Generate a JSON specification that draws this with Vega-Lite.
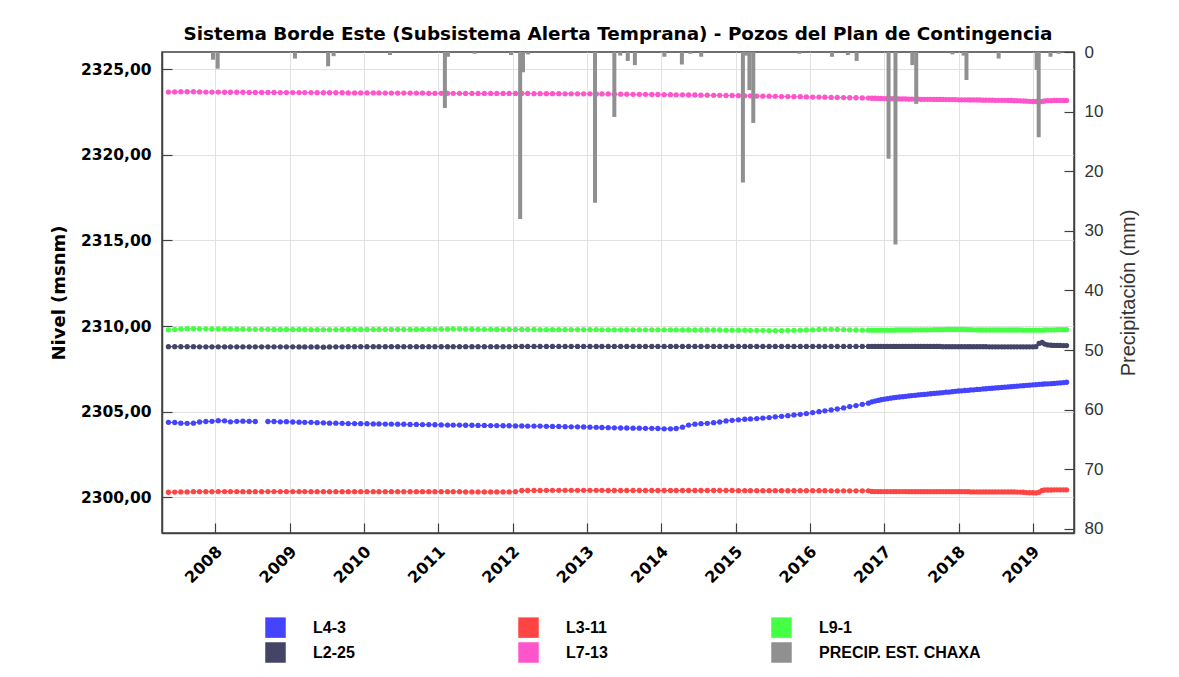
{
  "$schema": "https://vega.github.io/schema/vega-lite/v6.json",
  "width": 912,
  "height": 481,
  "autosize": {"type": "none"},
  "padding": {"left": 162, "top": 52, "right": 105, "bottom": 144},
  "background": "white",
  "title": {"text": "Sistema Borde Este (Subsistema Alerta Temprana) - Pozos del Plan de Contingencia", "font": "DejaVu Sans", "fontSize": 18.4, "fontWeight": "bold", "color": "#000000", "anchor": "middle", "offset": 0},
  "datasets": {
    "niv": [
      {"d":"2007-05-15","L4-3":2304.38,"L3-11":2300.30,"L9-1":2309.78,"L2-25":2308.80,"L7-13":2323.66},
      {"d":"2007-06-15","L4-3":2304.37,"L3-11":2300.31,"L9-1":2309.80,"L2-25":2308.80,"L7-13":2323.67},
      {"d":"2007-07-15","L4-3":2304.33,"L3-11":2300.32,"L9-1":2309.83,"L2-25":2308.80,"L7-13":2323.68},
      {"d":"2007-08-15","L4-3":2304.32,"L3-11":2300.32,"L9-1":2309.85,"L2-25":2308.80,"L7-13":2323.68},
      {"d":"2007-09-15","L4-3":2304.33,"L3-11":2300.33,"L9-1":2309.85,"L2-25":2308.80,"L7-13":2323.68},
      {"d":"2007-10-15","L4-3":2304.40,"L3-11":2300.33,"L9-1":2309.84,"L2-25":2308.79,"L7-13":2323.67},
      {"d":"2007-11-15","L4-3":2304.43,"L3-11":2300.33,"L9-1":2309.84,"L2-25":2308.79,"L7-13":2323.66},
      {"d":"2007-12-15","L4-3":2304.44,"L3-11":2300.33,"L9-1":2309.83,"L2-25":2308.79,"L7-13":2323.66},
      {"d":"2008-01-15","L4-3":2304.48,"L3-11":2300.34,"L9-1":2309.83,"L2-25":2308.79,"L7-13":2323.66},
      {"d":"2008-02-15","L4-3":2304.47,"L3-11":2300.34,"L9-1":2309.83,"L2-25":2308.79,"L7-13":2323.65},
      {"d":"2008-03-15","L4-3":2304.41,"L3-11":2300.34,"L9-1":2309.82,"L2-25":2308.79,"L7-13":2323.65},
      {"d":"2008-04-15","L4-3":2304.44,"L3-11":2300.34,"L9-1":2309.82,"L2-25":2308.79,"L7-13":2323.65},
      {"d":"2008-05-15","L4-3":2304.45,"L3-11":2300.33,"L9-1":2309.82,"L2-25":2308.79,"L7-13":2323.65},
      {"d":"2008-06-15","L4-3":2304.44,"L3-11":2300.33,"L9-1":2309.81,"L2-25":2308.79,"L7-13":2323.64},
      {"d":"2008-07-15","L4-3":2304.43,"L3-11":2300.33,"L9-1":2309.81,"L2-25":2308.79,"L7-13":2323.64},
      {"d":"2008-08-15","L3-11":2300.33,"L9-1":2309.81,"L2-25":2308.79,"L7-13":2323.64},
      {"d":"2008-09-15","L4-3":2304.43,"L3-11":2300.34,"L9-1":2309.81,"L2-25":2308.79,"L7-13":2323.64},
      {"d":"2008-10-15","L4-3":2304.43,"L3-11":2300.34,"L9-1":2309.80,"L2-25":2308.79,"L7-13":2323.64},
      {"d":"2008-11-15","L4-3":2304.41,"L3-11":2300.34,"L9-1":2309.80,"L2-25":2308.79,"L7-13":2323.63},
      {"d":"2008-12-15","L4-3":2304.42,"L3-11":2300.34,"L9-1":2309.80,"L2-25":2308.79,"L7-13":2323.63},
      {"d":"2009-01-15","L4-3":2304.40,"L3-11":2300.34,"L9-1":2309.80,"L2-25":2308.79,"L7-13":2323.63},
      {"d":"2009-02-15","L4-3":2304.39,"L3-11":2300.34,"L9-1":2309.80,"L2-25":2308.78,"L7-13":2323.63},
      {"d":"2009-03-15","L4-3":2304.38,"L3-11":2300.34,"L9-1":2309.80,"L2-25":2308.78,"L7-13":2323.63},
      {"d":"2009-04-15","L4-3":2304.38,"L3-11":2300.33,"L9-1":2309.79,"L2-25":2308.78,"L7-13":2323.63},
      {"d":"2009-05-15","L4-3":2304.36,"L3-11":2300.33,"L9-1":2309.79,"L2-25":2308.78,"L7-13":2323.62},
      {"d":"2009-06-15","L4-3":2304.35,"L3-11":2300.33,"L9-1":2309.79,"L2-25":2308.77,"L7-13":2323.62},
      {"d":"2009-07-15","L4-3":2304.33,"L3-11":2300.33,"L9-1":2309.79,"L2-25":2308.78,"L7-13":2323.62},
      {"d":"2009-08-15","L4-3":2304.33,"L3-11":2300.33,"L9-1":2309.79,"L2-25":2308.79,"L7-13":2323.62},
      {"d":"2009-09-15","L4-3":2304.32,"L3-11":2300.33,"L9-1":2309.80,"L2-25":2308.79,"L7-13":2323.62},
      {"d":"2009-10-15","L4-3":2304.31,"L3-11":2300.33,"L9-1":2309.80,"L2-25":2308.80,"L7-13":2323.61},
      {"d":"2009-11-15","L4-3":2304.31,"L3-11":2300.33,"L9-1":2309.80,"L2-25":2308.80,"L7-13":2323.61},
      {"d":"2009-12-15","L4-3":2304.30,"L3-11":2300.33,"L9-1":2309.80,"L2-25":2308.80,"L7-13":2323.61},
      {"d":"2010-01-15","L4-3":2304.30,"L3-11":2300.33,"L9-1":2309.80,"L2-25":2308.80,"L7-13":2323.61},
      {"d":"2010-02-15","L4-3":2304.29,"L3-11":2300.33,"L9-1":2309.80,"L2-25":2308.80,"L7-13":2323.61},
      {"d":"2010-03-15","L4-3":2304.29,"L3-11":2300.33,"L9-1":2309.80,"L2-25":2308.80,"L7-13":2323.61},
      {"d":"2010-04-15","L4-3":2304.28,"L3-11":2300.33,"L9-1":2309.80,"L2-25":2308.80,"L7-13":2323.60},
      {"d":"2010-05-15","L4-3":2304.28,"L3-11":2300.33,"L9-1":2309.80,"L2-25":2308.80,"L7-13":2323.60},
      {"d":"2010-06-15","L4-3":2304.27,"L3-11":2300.33,"L9-1":2309.80,"L2-25":2308.80,"L7-13":2323.60},
      {"d":"2010-07-15","L4-3":2304.27,"L3-11":2300.33,"L9-1":2309.80,"L2-25":2308.80,"L7-13":2323.60},
      {"d":"2010-08-15","L4-3":2304.26,"L3-11":2300.33,"L9-1":2309.80,"L2-25":2308.80,"L7-13":2323.60},
      {"d":"2010-09-15","L4-3":2304.26,"L3-11":2300.33,"L9-1":2309.80,"L2-25":2308.80,"L7-13":2323.60},
      {"d":"2010-10-15","L4-3":2304.25,"L3-11":2300.33,"L9-1":2309.81,"L2-25":2308.80,"L7-13":2323.60},
      {"d":"2010-11-15","L4-3":2304.25,"L3-11":2300.33,"L9-1":2309.81,"L2-25":2308.80,"L7-13":2323.59},
      {"d":"2010-12-15","L4-3":2304.24,"L3-11":2300.33,"L9-1":2309.81,"L2-25":2308.80,"L7-13":2323.59},
      {"d":"2011-01-15","L4-3":2304.23,"L3-11":2300.33,"L9-1":2309.82,"L2-25":2308.80,"L7-13":2323.59},
      {"d":"2011-02-15","L4-3":2304.22,"L3-11":2300.33,"L9-1":2309.82,"L2-25":2308.80,"L7-13":2323.59},
      {"d":"2011-03-15","L4-3":2304.22,"L3-11":2300.33,"L9-1":2309.83,"L2-25":2308.80,"L7-13":2323.59},
      {"d":"2011-04-15","L4-3":2304.22,"L3-11":2300.33,"L9-1":2309.83,"L2-25":2308.80,"L7-13":2323.59},
      {"d":"2011-05-15","L4-3":2304.21,"L3-11":2300.32,"L9-1":2309.82,"L2-25":2308.80,"L7-13":2323.58},
      {"d":"2011-06-15","L4-3":2304.21,"L3-11":2300.32,"L9-1":2309.82,"L2-25":2308.80,"L7-13":2323.58},
      {"d":"2011-07-15","L4-3":2304.20,"L3-11":2300.32,"L9-1":2309.81,"L2-25":2308.80,"L7-13":2323.58},
      {"d":"2011-08-15","L4-3":2304.20,"L3-11":2300.32,"L9-1":2309.81,"L2-25":2308.80,"L7-13":2323.58},
      {"d":"2011-09-15","L4-3":2304.19,"L3-11":2300.32,"L9-1":2309.81,"L2-25":2308.80,"L7-13":2323.58},
      {"d":"2011-10-15","L4-3":2304.19,"L3-11":2300.32,"L9-1":2309.80,"L2-25":2308.80,"L7-13":2323.58},
      {"d":"2011-11-15","L4-3":2304.18,"L3-11":2300.32,"L9-1":2309.80,"L2-25":2308.80,"L7-13":2323.58},
      {"d":"2011-12-15","L4-3":2304.18,"L3-11":2300.32,"L9-1":2309.80,"L2-25":2308.80,"L7-13":2323.58},
      {"d":"2012-01-15","L4-3":2304.17,"L3-11":2300.33,"L9-1":2309.80,"L2-25":2308.81,"L7-13":2323.58},
      {"d":"2012-02-15","L4-3":2304.17,"L3-11":2300.40,"L9-1":2309.80,"L2-25":2308.81,"L7-13":2323.58},
      {"d":"2012-03-15","L4-3":2304.16,"L3-11":2300.40,"L9-1":2309.80,"L2-25":2308.81,"L7-13":2323.58},
      {"d":"2012-04-15","L4-3":2304.16,"L3-11":2300.40,"L9-1":2309.80,"L2-25":2308.81,"L7-13":2323.57},
      {"d":"2012-05-15","L4-3":2304.16,"L3-11":2300.40,"L9-1":2309.79,"L2-25":2308.81,"L7-13":2323.57},
      {"d":"2012-06-15","L4-3":2304.15,"L3-11":2300.41,"L9-1":2309.79,"L2-25":2308.81,"L7-13":2323.57},
      {"d":"2012-07-15","L4-3":2304.14,"L3-11":2300.41,"L9-1":2309.79,"L2-25":2308.81,"L7-13":2323.57},
      {"d":"2012-08-15","L4-3":2304.14,"L3-11":2300.41,"L9-1":2309.79,"L2-25":2308.81,"L7-13":2323.57},
      {"d":"2012-09-15","L4-3":2304.13,"L3-11":2300.41,"L9-1":2309.79,"L2-25":2308.81,"L7-13":2323.56},
      {"d":"2012-10-15","L4-3":2304.12,"L3-11":2300.41,"L9-1":2309.79,"L2-25":2308.81,"L7-13":2323.56},
      {"d":"2012-11-15","L4-3":2304.12,"L3-11":2300.41,"L9-1":2309.79,"L2-25":2308.81,"L7-13":2323.56},
      {"d":"2012-12-15","L4-3":2304.11,"L3-11":2300.41,"L9-1":2309.79,"L2-25":2308.81,"L7-13":2323.56},
      {"d":"2013-01-15","L4-3":2304.10,"L3-11":2300.41,"L9-1":2309.79,"L2-25":2308.81,"L7-13":2323.56},
      {"d":"2013-02-15","L4-3":2304.09,"L3-11":2300.41,"L9-1":2309.79,"L2-25":2308.81,"L7-13":2323.55},
      {"d":"2013-03-15","L4-3":2304.08,"L3-11":2300.41,"L9-1":2309.78,"L2-25":2308.81,"L7-13":2323.55},
      {"d":"2013-04-15","L4-3":2304.07,"L3-11":2300.40,"L9-1":2309.78,"L2-25":2308.81,"L7-13":2323.55},
      {"d":"2013-05-15","L4-3":2304.06,"L3-11":2300.40,"L9-1":2309.78,"L2-25":2308.81,"L7-13":2323.54},
      {"d":"2013-06-15","L4-3":2304.05,"L3-11":2300.40,"L9-1":2309.78,"L2-25":2308.81,"L7-13":2323.54},
      {"d":"2013-07-15","L4-3":2304.05,"L3-11":2300.40,"L9-1":2309.78,"L2-25":2308.81,"L7-13":2323.54},
      {"d":"2013-08-15","L4-3":2304.04,"L3-11":2300.40,"L9-1":2309.78,"L2-25":2308.81,"L7-13":2323.53},
      {"d":"2013-09-15","L4-3":2304.04,"L3-11":2300.40,"L9-1":2309.78,"L2-25":2308.81,"L7-13":2323.53},
      {"d":"2013-10-15","L4-3":2304.03,"L3-11":2300.40,"L9-1":2309.78,"L2-25":2308.81,"L7-13":2323.53},
      {"d":"2013-11-15","L4-3":2304.03,"L3-11":2300.40,"L9-1":2309.78,"L2-25":2308.81,"L7-13":2323.52},
      {"d":"2013-12-15","L4-3":2304.02,"L3-11":2300.40,"L9-1":2309.78,"L2-25":2308.81,"L7-13":2323.52},
      {"d":"2014-01-15","L4-3":2304.00,"L3-11":2300.40,"L9-1":2309.78,"L2-25":2308.81,"L7-13":2323.51},
      {"d":"2014-02-15","L4-3":2304.00,"L3-11":2300.40,"L9-1":2309.78,"L2-25":2308.81,"L7-13":2323.51},
      {"d":"2014-03-15","L4-3":2304.02,"L3-11":2300.40,"L9-1":2309.78,"L2-25":2308.81,"L7-13":2323.50},
      {"d":"2014-04-15","L4-3":2304.10,"L3-11":2300.40,"L9-1":2309.77,"L2-25":2308.81,"L7-13":2323.50},
      {"d":"2014-05-15","L4-3":2304.22,"L3-11":2300.40,"L9-1":2309.77,"L2-25":2308.81,"L7-13":2323.49},
      {"d":"2014-06-15","L4-3":2304.27,"L3-11":2300.40,"L9-1":2309.77,"L2-25":2308.81,"L7-13":2323.49},
      {"d":"2014-07-15","L4-3":2304.30,"L3-11":2300.40,"L9-1":2309.77,"L2-25":2308.81,"L7-13":2323.48},
      {"d":"2014-08-15","L4-3":2304.32,"L3-11":2300.40,"L9-1":2309.77,"L2-25":2308.81,"L7-13":2323.48},
      {"d":"2014-09-15","L4-3":2304.36,"L3-11":2300.40,"L9-1":2309.77,"L2-25":2308.81,"L7-13":2323.47},
      {"d":"2014-10-15","L4-3":2304.40,"L3-11":2300.40,"L9-1":2309.77,"L2-25":2308.81,"L7-13":2323.47},
      {"d":"2014-11-15","L4-3":2304.46,"L3-11":2300.40,"L9-1":2309.76,"L2-25":2308.81,"L7-13":2323.46},
      {"d":"2014-12-15","L4-3":2304.50,"L3-11":2300.40,"L9-1":2309.76,"L2-25":2308.81,"L7-13":2323.46},
      {"d":"2015-01-15","L4-3":2304.53,"L3-11":2300.39,"L9-1":2309.76,"L2-25":2308.81,"L7-13":2323.45},
      {"d":"2015-02-15","L4-3":2304.56,"L3-11":2300.39,"L9-1":2309.76,"L2-25":2308.81,"L7-13":2323.44},
      {"d":"2015-03-15","L4-3":2304.58,"L3-11":2300.39,"L9-1":2309.75,"L2-25":2308.81,"L7-13":2323.44},
      {"d":"2015-04-15","L4-3":2304.60,"L3-11":2300.39,"L9-1":2309.75,"L2-25":2308.81,"L7-13":2323.43},
      {"d":"2015-05-15","L4-3":2304.63,"L3-11":2300.39,"L9-1":2309.75,"L2-25":2308.81,"L7-13":2323.42},
      {"d":"2015-06-15","L4-3":2304.66,"L3-11":2300.39,"L9-1":2309.74,"L2-25":2308.81,"L7-13":2323.42},
      {"d":"2015-07-15","L4-3":2304.70,"L3-11":2300.39,"L9-1":2309.74,"L2-25":2308.81,"L7-13":2323.41},
      {"d":"2015-08-15","L4-3":2304.73,"L3-11":2300.39,"L9-1":2309.74,"L2-25":2308.81,"L7-13":2323.40},
      {"d":"2015-09-15","L4-3":2304.77,"L3-11":2300.39,"L9-1":2309.75,"L2-25":2308.81,"L7-13":2323.40},
      {"d":"2015-10-15","L4-3":2304.81,"L3-11":2300.39,"L9-1":2309.75,"L2-25":2308.81,"L7-13":2323.39},
      {"d":"2015-11-15","L4-3":2304.85,"L3-11":2300.39,"L9-1":2309.76,"L2-25":2308.81,"L7-13":2323.39},
      {"d":"2015-12-15","L4-3":2304.89,"L3-11":2300.39,"L9-1":2309.77,"L2-25":2308.81,"L7-13":2323.38},
      {"d":"2016-01-15","L4-3":2304.95,"L3-11":2300.39,"L9-1":2309.78,"L2-25":2308.81,"L7-13":2323.37},
      {"d":"2016-02-15","L4-3":2305.00,"L3-11":2300.39,"L9-1":2309.80,"L2-25":2308.81,"L7-13":2323.37},
      {"d":"2016-03-15","L4-3":2305.05,"L3-11":2300.39,"L9-1":2309.81,"L2-25":2308.81,"L7-13":2323.36},
      {"d":"2016-04-15","L4-3":2305.10,"L3-11":2300.38,"L9-1":2309.81,"L2-25":2308.81,"L7-13":2323.35},
      {"d":"2016-05-15","L4-3":2305.16,"L3-11":2300.38,"L9-1":2309.80,"L2-25":2308.81,"L7-13":2323.35},
      {"d":"2016-06-15","L4-3":2305.22,"L3-11":2300.38,"L9-1":2309.79,"L2-25":2308.81,"L7-13":2323.34},
      {"d":"2016-07-15","L4-3":2305.30,"L3-11":2300.38,"L9-1":2309.78,"L2-25":2308.81,"L7-13":2323.33},
      {"d":"2016-08-15","L4-3":2305.36,"L3-11":2300.38,"L9-1":2309.77,"L2-25":2308.81,"L7-13":2323.33},
      {"d":"2016-09-15","L4-3":2305.43,"L3-11":2300.38,"L9-1":2309.76,"L2-25":2308.81,"L7-13":2323.32},
      {"d":"2016-10-15","L4-3":2305.50,"L3-11":2300.38,"L9-1":2309.76,"L2-25":2308.81,"L7-13":2323.31},
      {"d":"2016-11-01","L4-3":2305.58,"L3-11":2300.35,"L9-1":2309.76,"L2-25":2308.81,"L7-13":2323.30},
      {"d":"2016-11-16","L4-3":2305.62,"L3-11":2300.34,"L9-1":2309.76,"L2-25":2308.81,"L7-13":2323.30},
      {"d":"2016-12-01","L4-3":2305.66,"L3-11":2300.34,"L9-1":2309.76,"L2-25":2308.81,"L7-13":2323.29},
      {"d":"2016-12-16","L4-3":2305.70,"L3-11":2300.34,"L9-1":2309.76,"L2-25":2308.81,"L7-13":2323.29},
      {"d":"2017-01-01","L4-3":2305.73,"L3-11":2300.34,"L9-1":2309.76,"L2-25":2308.81,"L7-13":2323.28},
      {"d":"2017-01-16","L4-3":2305.76,"L3-11":2300.34,"L9-1":2309.76,"L2-25":2308.81,"L7-13":2323.28},
      {"d":"2017-02-01","L4-3":2305.79,"L3-11":2300.34,"L9-1":2309.76,"L2-25":2308.81,"L7-13":2323.27},
      {"d":"2017-02-16","L4-3":2305.82,"L3-11":2300.34,"L9-1":2309.76,"L2-25":2308.81,"L7-13":2323.27},
      {"d":"2017-03-01","L4-3":2305.84,"L3-11":2300.34,"L9-1":2309.77,"L2-25":2308.81,"L7-13":2323.27},
      {"d":"2017-03-16","L4-3":2305.86,"L3-11":2300.34,"L9-1":2309.77,"L2-25":2308.81,"L7-13":2323.26},
      {"d":"2017-04-01","L4-3":2305.88,"L3-11":2300.34,"L9-1":2309.77,"L2-25":2308.81,"L7-13":2323.26},
      {"d":"2017-04-16","L4-3":2305.90,"L3-11":2300.34,"L9-1":2309.77,"L2-25":2308.81,"L7-13":2323.26},
      {"d":"2017-05-01","L4-3":2305.92,"L3-11":2300.33,"L9-1":2309.77,"L2-25":2308.81,"L7-13":2323.25},
      {"d":"2017-05-16","L4-3":2305.94,"L3-11":2300.33,"L9-1":2309.77,"L2-25":2308.81,"L7-13":2323.25},
      {"d":"2017-06-01","L4-3":2305.96,"L3-11":2300.33,"L9-1":2309.78,"L2-25":2308.81,"L7-13":2323.25},
      {"d":"2017-06-16","L4-3":2305.98,"L3-11":2300.33,"L9-1":2309.78,"L2-25":2308.81,"L7-13":2323.25},
      {"d":"2017-07-01","L4-3":2306.00,"L3-11":2300.33,"L9-1":2309.78,"L2-25":2308.81,"L7-13":2323.24},
      {"d":"2017-07-16","L4-3":2306.01,"L3-11":2300.33,"L9-1":2309.78,"L2-25":2308.81,"L7-13":2323.24},
      {"d":"2017-08-01","L4-3":2306.03,"L3-11":2300.33,"L9-1":2309.78,"L2-25":2308.81,"L7-13":2323.24},
      {"d":"2017-08-16","L4-3":2306.05,"L3-11":2300.33,"L9-1":2309.78,"L2-25":2308.81,"L7-13":2323.24},
      {"d":"2017-09-01","L4-3":2306.07,"L3-11":2300.33,"L9-1":2309.79,"L2-25":2308.81,"L7-13":2323.23},
      {"d":"2017-09-16","L4-3":2306.08,"L3-11":2300.33,"L9-1":2309.79,"L2-25":2308.81,"L7-13":2323.23},
      {"d":"2017-10-01","L4-3":2306.10,"L3-11":2300.33,"L9-1":2309.79,"L2-25":2308.81,"L7-13":2323.23},
      {"d":"2017-10-16","L4-3":2306.12,"L3-11":2300.33,"L9-1":2309.79,"L2-25":2308.80,"L7-13":2323.23},
      {"d":"2017-11-01","L4-3":2306.14,"L3-11":2300.33,"L9-1":2309.80,"L2-25":2308.80,"L7-13":2323.22},
      {"d":"2017-11-16","L4-3":2306.15,"L3-11":2300.33,"L9-1":2309.80,"L2-25":2308.80,"L7-13":2323.22},
      {"d":"2017-12-01","L4-3":2306.17,"L3-11":2300.33,"L9-1":2309.80,"L2-25":2308.80,"L7-13":2323.22},
      {"d":"2017-12-16","L4-3":2306.19,"L3-11":2300.33,"L9-1":2309.80,"L2-25":2308.80,"L7-13":2323.22},
      {"d":"2018-01-01","L4-3":2306.21,"L3-11":2300.33,"L9-1":2309.80,"L2-25":2308.80,"L7-13":2323.21},
      {"d":"2018-01-16","L4-3":2306.22,"L3-11":2300.33,"L9-1":2309.80,"L2-25":2308.80,"L7-13":2323.21},
      {"d":"2018-02-01","L4-3":2306.24,"L3-11":2300.33,"L9-1":2309.80,"L2-25":2308.80,"L7-13":2323.21},
      {"d":"2018-02-16","L4-3":2306.25,"L3-11":2300.33,"L9-1":2309.79,"L2-25":2308.80,"L7-13":2323.21},
      {"d":"2018-03-01","L4-3":2306.27,"L3-11":2300.32,"L9-1":2309.79,"L2-25":2308.80,"L7-13":2323.20},
      {"d":"2018-03-16","L4-3":2306.28,"L3-11":2300.32,"L9-1":2309.78,"L2-25":2308.80,"L7-13":2323.20},
      {"d":"2018-04-01","L4-3":2306.30,"L3-11":2300.32,"L9-1":2309.78,"L2-25":2308.80,"L7-13":2323.20},
      {"d":"2018-04-16","L4-3":2306.31,"L3-11":2300.32,"L9-1":2309.77,"L2-25":2308.80,"L7-13":2323.20},
      {"d":"2018-05-01","L4-3":2306.33,"L3-11":2300.32,"L9-1":2309.77,"L2-25":2308.80,"L7-13":2323.19},
      {"d":"2018-05-16","L4-3":2306.34,"L3-11":2300.32,"L9-1":2309.77,"L2-25":2308.80,"L7-13":2323.19},
      {"d":"2018-06-01","L4-3":2306.36,"L3-11":2300.32,"L9-1":2309.77,"L2-25":2308.79,"L7-13":2323.19},
      {"d":"2018-06-16","L4-3":2306.37,"L3-11":2300.32,"L9-1":2309.77,"L2-25":2308.79,"L7-13":2323.19},
      {"d":"2018-07-01","L4-3":2306.39,"L3-11":2300.32,"L9-1":2309.77,"L2-25":2308.79,"L7-13":2323.18},
      {"d":"2018-07-16","L4-3":2306.40,"L3-11":2300.32,"L9-1":2309.77,"L2-25":2308.79,"L7-13":2323.18},
      {"d":"2018-08-01","L4-3":2306.42,"L3-11":2300.32,"L9-1":2309.77,"L2-25":2308.79,"L7-13":2323.18},
      {"d":"2018-08-16","L4-3":2306.43,"L3-11":2300.32,"L9-1":2309.77,"L2-25":2308.79,"L7-13":2323.18},
      {"d":"2018-09-01","L4-3":2306.45,"L3-11":2300.32,"L9-1":2309.77,"L2-25":2308.79,"L7-13":2323.17},
      {"d":"2018-09-16","L4-3":2306.46,"L3-11":2300.32,"L9-1":2309.77,"L2-25":2308.79,"L7-13":2323.17},
      {"d":"2018-10-01","L4-3":2306.48,"L3-11":2300.32,"L9-1":2309.77,"L2-25":2308.79,"L7-13":2323.16},
      {"d":"2018-10-16","L4-3":2306.49,"L3-11":2300.31,"L9-1":2309.77,"L2-25":2308.79,"L7-13":2323.16},
      {"d":"2018-11-01","L4-3":2306.51,"L3-11":2300.31,"L9-1":2309.77,"L2-25":2308.79,"L7-13":2323.15},
      {"d":"2018-11-16","L4-3":2306.52,"L3-11":2300.30,"L9-1":2309.76,"L2-25":2308.79,"L7-13":2323.14},
      {"d":"2018-12-01","L4-3":2306.54,"L3-11":2300.28,"L9-1":2309.76,"L2-25":2308.79,"L7-13":2323.13},
      {"d":"2018-12-16","L4-3":2306.55,"L3-11":2300.27,"L9-1":2309.76,"L2-25":2308.79,"L7-13":2323.12},
      {"d":"2019-01-01","L4-3":2306.57,"L3-11":2300.27,"L9-1":2309.76,"L2-25":2308.79,"L7-13":2323.11},
      {"d":"2019-01-16","L4-3":2306.58,"L3-11":2300.26,"L9-1":2309.76,"L2-25":2308.80,"L7-13":2323.11},
      {"d":"2019-02-01","L4-3":2306.60,"L3-11":2300.30,"L9-1":2309.76,"L2-25":2308.99,"L7-13":2323.10},
      {"d":"2019-02-16","L4-3":2306.61,"L3-11":2300.40,"L9-1":2309.76,"L2-25":2309.04,"L7-13":2323.11},
      {"d":"2019-03-01","L4-3":2306.62,"L3-11":2300.43,"L9-1":2309.77,"L2-25":2308.95,"L7-13":2323.14},
      {"d":"2019-03-16","L4-3":2306.63,"L3-11":2300.43,"L9-1":2309.78,"L2-25":2308.90,"L7-13":2323.16},
      {"d":"2019-04-01","L4-3":2306.64,"L3-11":2300.43,"L9-1":2309.78,"L2-25":2308.88,"L7-13":2323.16},
      {"d":"2019-04-16","L4-3":2306.65,"L3-11":2300.44,"L9-1":2309.78,"L2-25":2308.87,"L7-13":2323.17},
      {"d":"2019-05-01","L4-3":2306.67,"L3-11":2300.44,"L9-1":2309.79,"L2-25":2308.87,"L7-13":2323.17},
      {"d":"2019-05-16","L4-3":2306.68,"L3-11":2300.44,"L9-1":2309.79,"L2-25":2308.87,"L7-13":2323.17},
      {"d":"2019-06-01","L4-3":2306.70,"L3-11":2300.44,"L9-1":2309.79,"L2-25":2308.86,"L7-13":2323.17},
      {"d":"2019-06-16","L4-3":2306.72,"L3-11":2300.44,"L9-1":2309.79,"L2-25":2308.86,"L7-13":2323.17}
    ],
    "pp": [
      {"d":"2007-12-20","mm":1.3,"serie":"PRECIP. EST. CHAXA"},
      {"d":"2008-01-12","mm":2.8,"serie":"PRECIP. EST. CHAXA"},
      {"d":"2009-01-26","mm":1.1,"serie":"PRECIP. EST. CHAXA"},
      {"d":"2009-07-08","mm":2.4,"serie":"PRECIP. EST. CHAXA"},
      {"d":"2009-08-04","mm":0.7,"serie":"PRECIP. EST. CHAXA"},
      {"d":"2010-05-08","mm":0.5,"serie":"PRECIP. EST. CHAXA"},
      {"d":"2011-02-02","mm":9.4,"serie":"PRECIP. EST. CHAXA"},
      {"d":"2011-02-17","mm":0.8,"serie":"PRECIP. EST. CHAXA"},
      {"d":"2011-06-28","mm":0.3,"serie":"PRECIP. EST. CHAXA"},
      {"d":"2011-12-24","mm":0.5,"serie":"PRECIP. EST. CHAXA"},
      {"d":"2012-02-07","mm":28.0,"serie":"PRECIP. EST. CHAXA"},
      {"d":"2012-02-21","mm":3.4,"serie":"PRECIP. EST. CHAXA"},
      {"d":"2012-03-17","mm":0.4,"serie":"PRECIP. EST. CHAXA"},
      {"d":"2013-02-09","mm":25.3,"serie":"PRECIP. EST. CHAXA"},
      {"d":"2013-05-15","mm":10.9,"serie":"PRECIP. EST. CHAXA"},
      {"d":"2013-06-13","mm":0.6,"serie":"PRECIP. EST. CHAXA"},
      {"d":"2013-07-20","mm":1.5,"serie":"PRECIP. EST. CHAXA"},
      {"d":"2013-08-24","mm":2.2,"serie":"PRECIP. EST. CHAXA"},
      {"d":"2014-01-16","mm":0.8,"serie":"PRECIP. EST. CHAXA"},
      {"d":"2014-04-12","mm":2.1,"serie":"PRECIP. EST. CHAXA"},
      {"d":"2014-05-23","mm":0.3,"serie":"PRECIP. EST. CHAXA"},
      {"d":"2014-07-16","mm":0.8,"serie":"PRECIP. EST. CHAXA"},
      {"d":"2015-02-06","mm":21.9,"serie":"PRECIP. EST. CHAXA"},
      {"d":"2015-02-24","mm":0.6,"serie":"PRECIP. EST. CHAXA"},
      {"d":"2015-03-10","mm":6.4,"serie":"PRECIP. EST. CHAXA"},
      {"d":"2015-03-29","mm":11.9,"serie":"PRECIP. EST. CHAXA"},
      {"d":"2015-11-10","mm":0.3,"serie":"PRECIP. EST. CHAXA"},
      {"d":"2016-04-19","mm":0.8,"serie":"PRECIP. EST. CHAXA"},
      {"d":"2016-07-06","mm":0.5,"serie":"PRECIP. EST. CHAXA"},
      {"d":"2016-08-18","mm":1.5,"serie":"PRECIP. EST. CHAXA"},
      {"d":"2017-01-22","mm":17.9,"serie":"PRECIP. EST. CHAXA"},
      {"d":"2017-02-25","mm":32.3,"serie":"PRECIP. EST. CHAXA"},
      {"d":"2017-05-19","mm":2.2,"serie":"PRECIP. EST. CHAXA"},
      {"d":"2017-06-07","mm":8.7,"serie":"PRECIP. EST. CHAXA"},
      {"d":"2017-12-02","mm":0.4,"serie":"PRECIP. EST. CHAXA"},
      {"d":"2018-01-26","mm":0.6,"serie":"PRECIP. EST. CHAXA"},
      {"d":"2018-02-09","mm":4.7,"serie":"PRECIP. EST. CHAXA"},
      {"d":"2018-07-17","mm":1.1,"serie":"PRECIP. EST. CHAXA"},
      {"d":"2019-01-20","mm":3.0,"serie":"PRECIP. EST. CHAXA"},
      {"d":"2019-01-30","mm":14.3,"serie":"PRECIP. EST. CHAXA"},
      {"d":"2019-03-29","mm":0.8,"serie":"PRECIP. EST. CHAXA"},
      {"d":"2019-05-08","mm":0.3,"serie":"PRECIP. EST. CHAXA"}
    ]
  },
  "layer": [
    {
      "data": {"name": "niv"},
      "transform": [{"fold": ["L4-3", "L3-11", "L9-1", "L2-25", "L7-13"], "as": ["serie", "nivel"]}],
      "mark": {"type": "line", "strokeWidth": 1, "clip": true, "point": {"filled": true, "size": 28, "opacity": 1}},
      "encoding": {
        "x": {"field": "d", "type": "temporal", "scale": {"domain": ["2007-05-08", "2019-06-28"]},
          "axis": {"orient": "bottom", "tickCount": {"interval": "year", "step": 1}, "format": "%Y", "labelAngle": -45, "labelFont": "DejaVu Sans", "labelFontWeight": "bold", "labelFontSize": 16, "labelColor": "#000000", "tickSize": -10, "labelPadding": 20, "labelOffset": -2, "title": null, "grid": true, "gridColor": "#e2e2e2", "domainColor": "#404040", "tickColor": "#404040", "labelOverlap": false, "labelFlush": false}},
        "y": {"field": "nivel", "type": "quantitative", "scale": {"domain": [2297.92, 2326], "zero": false, "nice": false},
          "axis": {"orient": "left", "values": [2300, 2305, 2310, 2315, 2320, 2325], "labelExpr": "replace(format(datum.value, '.2f'), '.', ',')", "labelFont": "DejaVu Sans", "labelFontWeight": "bold", "labelFontSize": 15.5, "labelColor": "#000000", "tickSize": -10, "labelPadding": 21, "title": "Nivel (msnm)", "titleFont": "DejaVu Sans", "titleFontSize": 18, "titleFontWeight": "bold", "titleColor": "#000000", "titlePadding": 12, "grid": true, "gridColor": "#e2e2e2", "domainColor": "#404040", "tickColor": "#404040"}},
        "color": {"field": "serie", "type": "nominal",
          "scale": {"domain": ["L4-3", "L3-11", "L9-1", "L2-25", "L7-13", "PRECIP. EST. CHAXA"], "range": ["#4444ff", "#ff4444", "#44ff44", "#444466", "#ff55cc", "#909090"]},
          "legend": {"orient": "none", "legendX": 103, "legendY": 565, "columns": 3, "columnPadding": 163, "rowPadding": 4, "symbolType": "square", "symbolSize": 420, "symbolStrokeWidth": 0, "symbolOpacity": 1, "labelFont": "Liberation Sans", "labelFontWeight": "bold", "labelFontSize": 16, "labelLimit": 400, "labelColor": "#000000", "labelOffset": 27, "title": null, "direction": "horizontal",
            "encode": {"symbols": {"update": {"fill": {"scale": "color", "field": "value"}, "fillOpacity": {"value": 1}, "strokeWidth": {"value": 0}}}}}}
      }
    },
    {
      "data": {"name": "pp"},
      "mark": {"type": "bar", "size": 4, "clip": true},
      "encoding": {
        "x": {"field": "d", "type": "temporal"},
        "y": {"field": "mm", "type": "quantitative", "scale": {"domain": [0, 80.7], "reverse": true, "nice": false, "zero": true},
          "axis": {"orient": "right", "values": [0, 10, 20, 30, 40, 50, 60, 70, 80], "labelFont": "Liberation Sans", "labelFontSize": 17, "labelColor": "#333333", "tickSize": -10, "labelPadding": 20, "title": "Precipitación (mm)", "titleFont": "Liberation Sans", "titleFontSize": 20, "titleFontWeight": "normal", "titleColor": "#333333", "titleAngle": 270, "titleBaseline": "top", "titlePadding": 16, "grid": false, "domainColor": "#404040", "tickColor": "#404040"}},
        "color": {"field": "serie", "type": "nominal"}
      }
    }
  ],
  "resolve": {"scale": {"y": "independent"}},
  "config": {
    "view": {"stroke": "#404040", "strokeWidth": 1.5},
    "axis": {"domainWidth": 1.5, "tickWidth": 1.2}
  }
}
